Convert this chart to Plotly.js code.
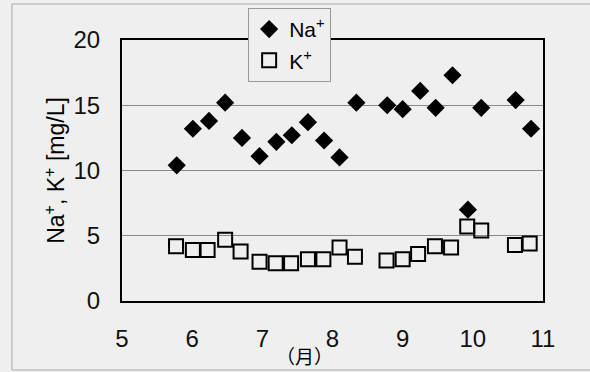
<!DOCTYPE html>
<html>
<head>
<meta charset="utf-8">
<script src="https://cdn.plot.ly/plotly-3.0.1.min.js"></script>
<style>html,body{margin:0;padding:0;background:#efefef;}#chart{width:590px;height:372px;}</style>
</head>
<body>
<div id="chart"></div>
<script>
// Month (fractional) of each sample and measured concentrations [mg/L]
const naMonth = [5.78, 6.01, 6.24, 6.47, 6.71, 6.96, 7.20, 7.42, 7.65, 7.88, 8.10, 8.34, 8.78, 9.00, 9.25, 9.47, 9.71, 9.93, 10.12, 10.61, 10.83];
const naValues = [10.4, 13.2, 13.8, 15.2, 12.5, 11.1, 12.2, 12.7, 13.7, 12.3, 11.0, 15.2, 15.0, 14.7, 16.1, 14.8, 17.3, 7.0, 14.8, 15.4, 13.2];
const kMonth = [5.77, 6.01, 6.22, 6.47, 6.69, 6.96, 7.19, 7.41, 7.65, 7.87, 8.10, 8.32, 8.77, 9.00, 9.22, 9.46, 9.69, 9.92, 10.12, 10.60, 10.81];
const kValues = [4.2, 3.9, 3.9, 4.7, 3.8, 3.0, 2.9, 2.9, 3.2, 3.2, 4.1, 3.4, 3.1, 3.2, 3.6, 4.2, 4.1, 5.7, 5.4, 4.3, 4.4];
const xTicks = [5, 6, 7, 8, 9, 10, 11];
const yTicks = [0, 5, 10, 15, 20];

const bg = '#efefef';
const font = 'Liberation Sans, Arial, sans-serif';
const tickFont = {family: 'Liberation Sans Narrow, Arial Narrow, Liberation Sans, sans-serif', size: 24, color: '#111111'};

const traces = [
  {x: naMonth, y: naValues, name: 'Na<sup>+</sup>', type: 'scatter', mode: 'markers',
   marker: {symbol: 'diamond', size: 14, color: '#000000'}, legendgroup: 'a'},
  {x: kMonth, y: kValues, name: 'K<sup>+</sup>', type: 'scatter', mode: 'markers',
   marker: {symbol: 'square-open', size: 14, color: '#000000', line: {width: 2, color: '#000000'}}, legendgroup: 'b'}
];

const layout = {
  width: 590, height: 372,
  paper_bgcolor: bg, plot_bgcolor: bg,
  margin: {l: 122, r: 47, t: 40, b: 71, autoexpand: false},
  font: {family: font, size: 21, color: '#000000'},
  showlegend: true,
  legend: {x: 0.2996, y: 1.123, xanchor: 'left', yanchor: 'top', bgcolor: bg,
           bordercolor: '#999999', borderwidth: 1, font: {size: 21},
           traceorder: 'grouped', tracegroupgap: 1, itemwidth: 30},
  xaxis: {range: [5, 11], tickvals: xTicks, ticktext: xTicks.map(String), showgrid: false,
          zeroline: false, showline: true, linecolor: '#000000', linewidth: 2, mirror: true,
          ticks: '', ticklabelstandoff: 15, tickfont: tickFont, automargin: false},
  yaxis: {range: [0, 20], tickvals: yTicks, ticktext: yTicks.map(String), showgrid: true,
          gridcolor: '#8a8a8a', gridwidth: 1, zeroline: false, showline: true,
          linecolor: '#000000', linewidth: 2, mirror: true, ticks: '', ticklabelstandoff: 15,
          tickfont: tickFont, automargin: false,
          title: {text: 'Na<sup>+</sup>, K<sup>+</sup> [mg/L]', font: {size: 23}, standoff: 2}},
  annotations: [
    {text: '（月）', xref: 'paper', yref: 'paper', x: 0.4346, y: -0.2107, xanchor: 'center', yanchor: 'middle',
     showarrow: false, font: {family: 'Noto Sans CJK JP, sans-serif', size: 19}}
  ],
  shapes: [
    {type: 'rect', xref: 'paper', yref: 'paper', x0: -0.2615, x1: 1.1175, y0: -0.2644, y1: 1.1379,
     line: {color: '#a8a8a8', width: 1}, layer: 'below'}
  ]
};

Plotly.newPlot('chart', traces, layout, {displayModeBar: false, staticPlot: true});
</script>
</body>
</html>
